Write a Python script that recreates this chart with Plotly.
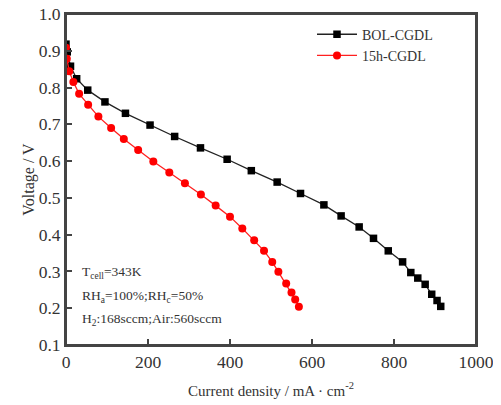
import plotly.graph_objects as go

bol_x = [0, 3, 11, 26, 53, 95, 145, 205, 265, 328, 393, 452, 515, 572, 629, 671, 715, 750, 786, 821, 841, 858, 876, 892, 905, 914]
bol_y = [0.918, 0.897, 0.858, 0.824, 0.793, 0.761, 0.730, 0.698, 0.667, 0.636, 0.605, 0.574, 0.543, 0.512, 0.481, 0.451, 0.421, 0.390, 0.356, 0.326, 0.297, 0.282, 0.265, 0.238, 0.221, 0.205]

h15_x = [0, 2, 8, 18, 32, 54, 79, 110, 141, 176, 213, 252, 290, 329, 365, 400, 430, 459, 483, 503, 518, 537, 550, 559, 568]
h15_y = [0.908, 0.878, 0.844, 0.815, 0.783, 0.753, 0.721, 0.690, 0.660, 0.630, 0.599, 0.569, 0.540, 0.509, 0.479, 0.449, 0.417, 0.385, 0.356, 0.326, 0.299, 0.267, 0.243, 0.224, 0.204]

x_ticks = [0, 200, 400, 600, 800, 1000]
y_ticks = [0.1, 0.2, 0.3, 0.4, 0.5, 0.6, 0.7, 0.8, 0.9, 1.0]

annot_lines = ["T<sub>cell</sub>=343K", "RH<sub>a</sub>=100%;RH<sub>c</sub>=50%", "H<sub>2</sub>:168sccm;Air:560sccm"]
annot_y = [0.22, 0.148, 0.076]

FONT = "Times New Roman"
AXC = "#444444"

fig = go.Figure()
fig.add_trace(go.Scatter(x=bol_x, y=bol_y, mode="lines+markers", name="BOL-CGDL",
                         line=dict(color="#222222", width=1.3),
                         marker=dict(symbol="square", size=7.5, color="black")))
fig.add_trace(go.Scatter(x=h15_x, y=h15_y, mode="lines+markers", name="15h-CGDL",
                         line=dict(color="#ff2020", width=1.3),
                         marker=dict(symbol="circle", size=8, color="#ff0000")))

for t, yy in zip(annot_lines, annot_y):
    fig.add_annotation(x=0.035, y=yy, xref="paper", yref="paper", text=t,
                       showarrow=False, xanchor="left", yanchor="middle",
                       font=dict(family=FONT, size=13.5, color="#333333"))

# plot frame
fig.add_shape(type="rect", xref="paper", yref="paper", x0=0, y0=0, x1=1, y1=1,
              line=dict(color=AXC, width=2), fillcolor="rgba(0,0,0,0)", layer="above")

fig.update_layout(
    width=493, height=398,
    margin=dict(l=58, r=25, t=6, b=61),
    paper_bgcolor="white", plot_bgcolor="white",
    font=dict(family=FONT, size=17, color="#333333"),
    showlegend=True,
    legend=dict(x=0.6, y=0.986, xanchor="left", yanchor="top", bgcolor="rgba(0,0,0,0)",
                font=dict(family=FONT, size=14, color="#333333"), tracegroupgap=0, itemwidth=40),
    xaxis=dict(range=[0, 1000], tickvals=x_ticks, ticktext=[str(v) for v in x_ticks],
               showline=True, linecolor=AXC, linewidth=2, mirror=True,
               ticks="inside", ticklen=6, tickwidth=1.5, tickcolor=AXC,
               showgrid=False, zeroline=False, automargin=False, ticklabeloverflow="allow",
               tickfont=dict(family=FONT, size=17.5, color="#333333"),
               title=dict(text="Current density / mA · cm<sup>-2</sup>", font=dict(family=FONT, size=15), standoff=14)),
    yaxis=dict(range=[0.1, 1.0], tickvals=y_ticks, ticktext=[f"{v:.1f}" for v in y_ticks],
               showline=True, linecolor=AXC, linewidth=2, mirror=True,
               ticks="inside", ticklen=6, tickwidth=1.5, tickcolor=AXC,
               showgrid=False, zeroline=False, automargin=False, ticklabeloverflow="allow",
               tickfont=dict(family=FONT, size=17.5, color="#333333"),
               title=dict(text="Voltage / V", font=dict(family=FONT, size=16), standoff=0)),
)

fig.write_html("out.html")
